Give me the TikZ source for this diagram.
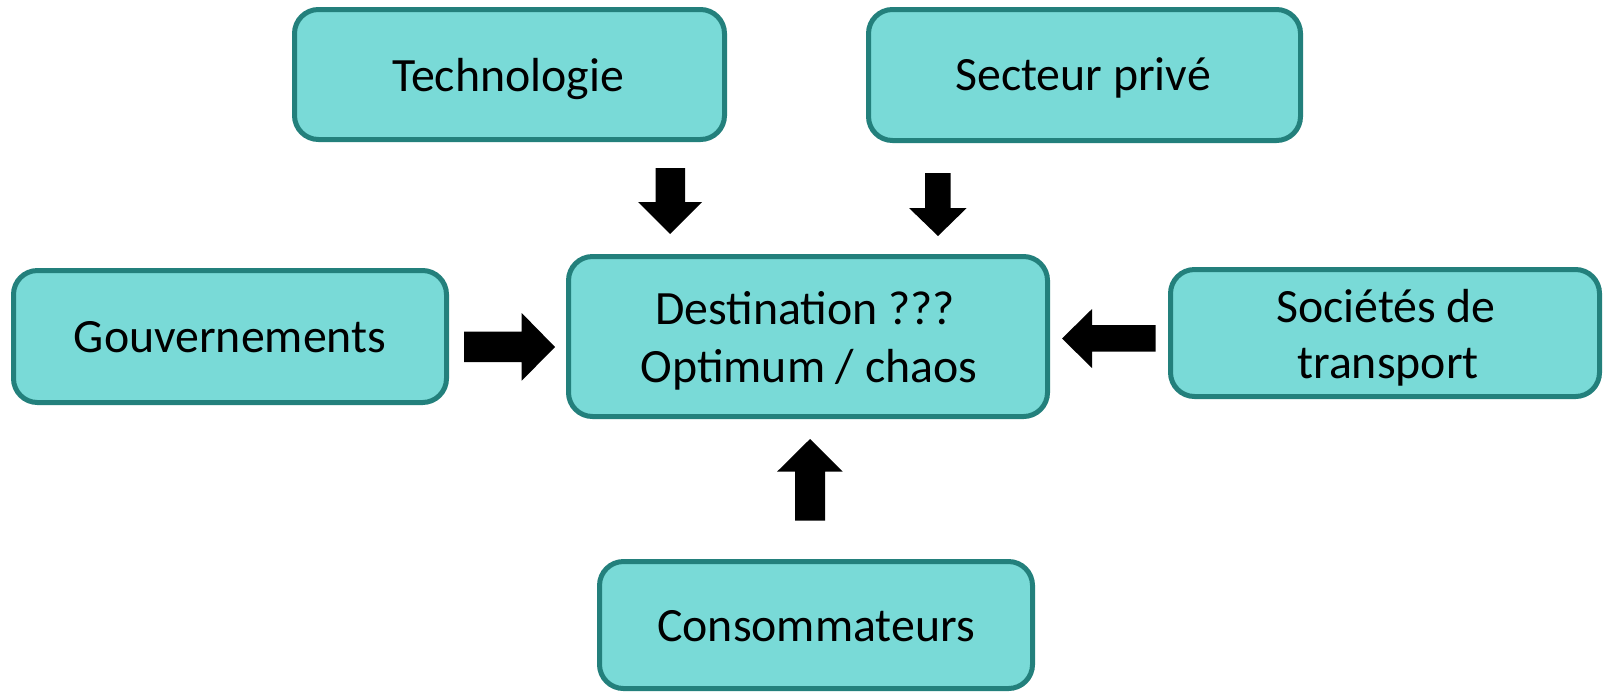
\documentclass[tikz,border=0pt]{standalone}
\usepackage{fontspec}
\setmainfont{Carlito}
\definecolor{boxfill}{RGB}{121,218,215}
\definecolor{boxline}{RGB}{35,128,124}
\tikzset{
 box/.style={draw=boxline, fill=boxfill, line width=2.5pt, rounded corners=12pt, inner sep=0pt},
 txt/.style={anchor=base, inner sep=0pt, font=\fontsize{23.9}{28}\selectfont},
 blockarrow/.style={fill=black, draw=none}
}
\begin{document}
\begin{tikzpicture}[x=0.5pt,y=-0.5pt]
\fill[white] (0,0) rectangle (1604,692);
\useasboundingbox (0,0) rectangle (1604,692);
% boxes
\node[box, minimum width=215pt, minimum height=65pt] (tech) at (509.5,74.5) {};
\node[box, minimum width=216pt, minimum height=65.5pt] (prive) at (1084.5,75) {};
\node[box, minimum width=216.5pt, minimum height=66pt] (gouv) at (230,336.5) {};
\node[box, minimum width=239.5pt, minimum height=80pt] (dest) at (808,336.5) {};
\node[box, minimum width=214.5pt, minimum height=63.5pt] (soc) at (1385,333) {};
\node[box, minimum width=216.5pt, minimum height=63.5pt] (cons) at (816,625) {};
% texts
\node[txt] (ttech) at (508,91) {Technologie};
\node[txt] (tprive) at (1083,90.7) {Secteur privé};
\node[txt] (tgouv) at (230,352.5) {Gouvernements};
\node[txt] (tdest1) at (805,324.5) {Destination ???};
\node[txt] (tdest2) at (809,382) {Optimum / chaos};
\node[txt] (tsoc1) at (1386,322) {Sociétés de};
\node[txt] (tsoc2) at (1388,378) {transport};
\node[txt] (tcons) at (816,641.7) {Consommateurs};
% block arrows
\fill[blockarrow] (655.7,168) -- (685,168) -- (685,202) -- (702,202) -- (670,234) -- (638,202) -- (655.7,202) -- cycle;
\fill[blockarrow] (925,173) -- (950.7,173) -- (950.7,208) -- (966.7,208) -- (938,236) -- (909,208) -- (925,208) -- cycle;
\fill[blockarrow] (464,331.7) -- (521.7,331.7) -- (521.7,313) -- (555,347) -- (521.7,380.7) -- (521.7,362) -- (464,362) -- cycle;
\fill[blockarrow] (1155.7,325) -- (1092,325) -- (1092,309) -- (1062,338.5) -- (1092,368) -- (1092,351.7) -- (1155.7,351.7) -- cycle;
\fill[blockarrow] (795,520.7) -- (795,471.7) -- (777,471.7) -- (810,439) -- (842.7,471.7) -- (825,471.7) -- (825,520.7) -- cycle;
\end{tikzpicture}
\end{document}
